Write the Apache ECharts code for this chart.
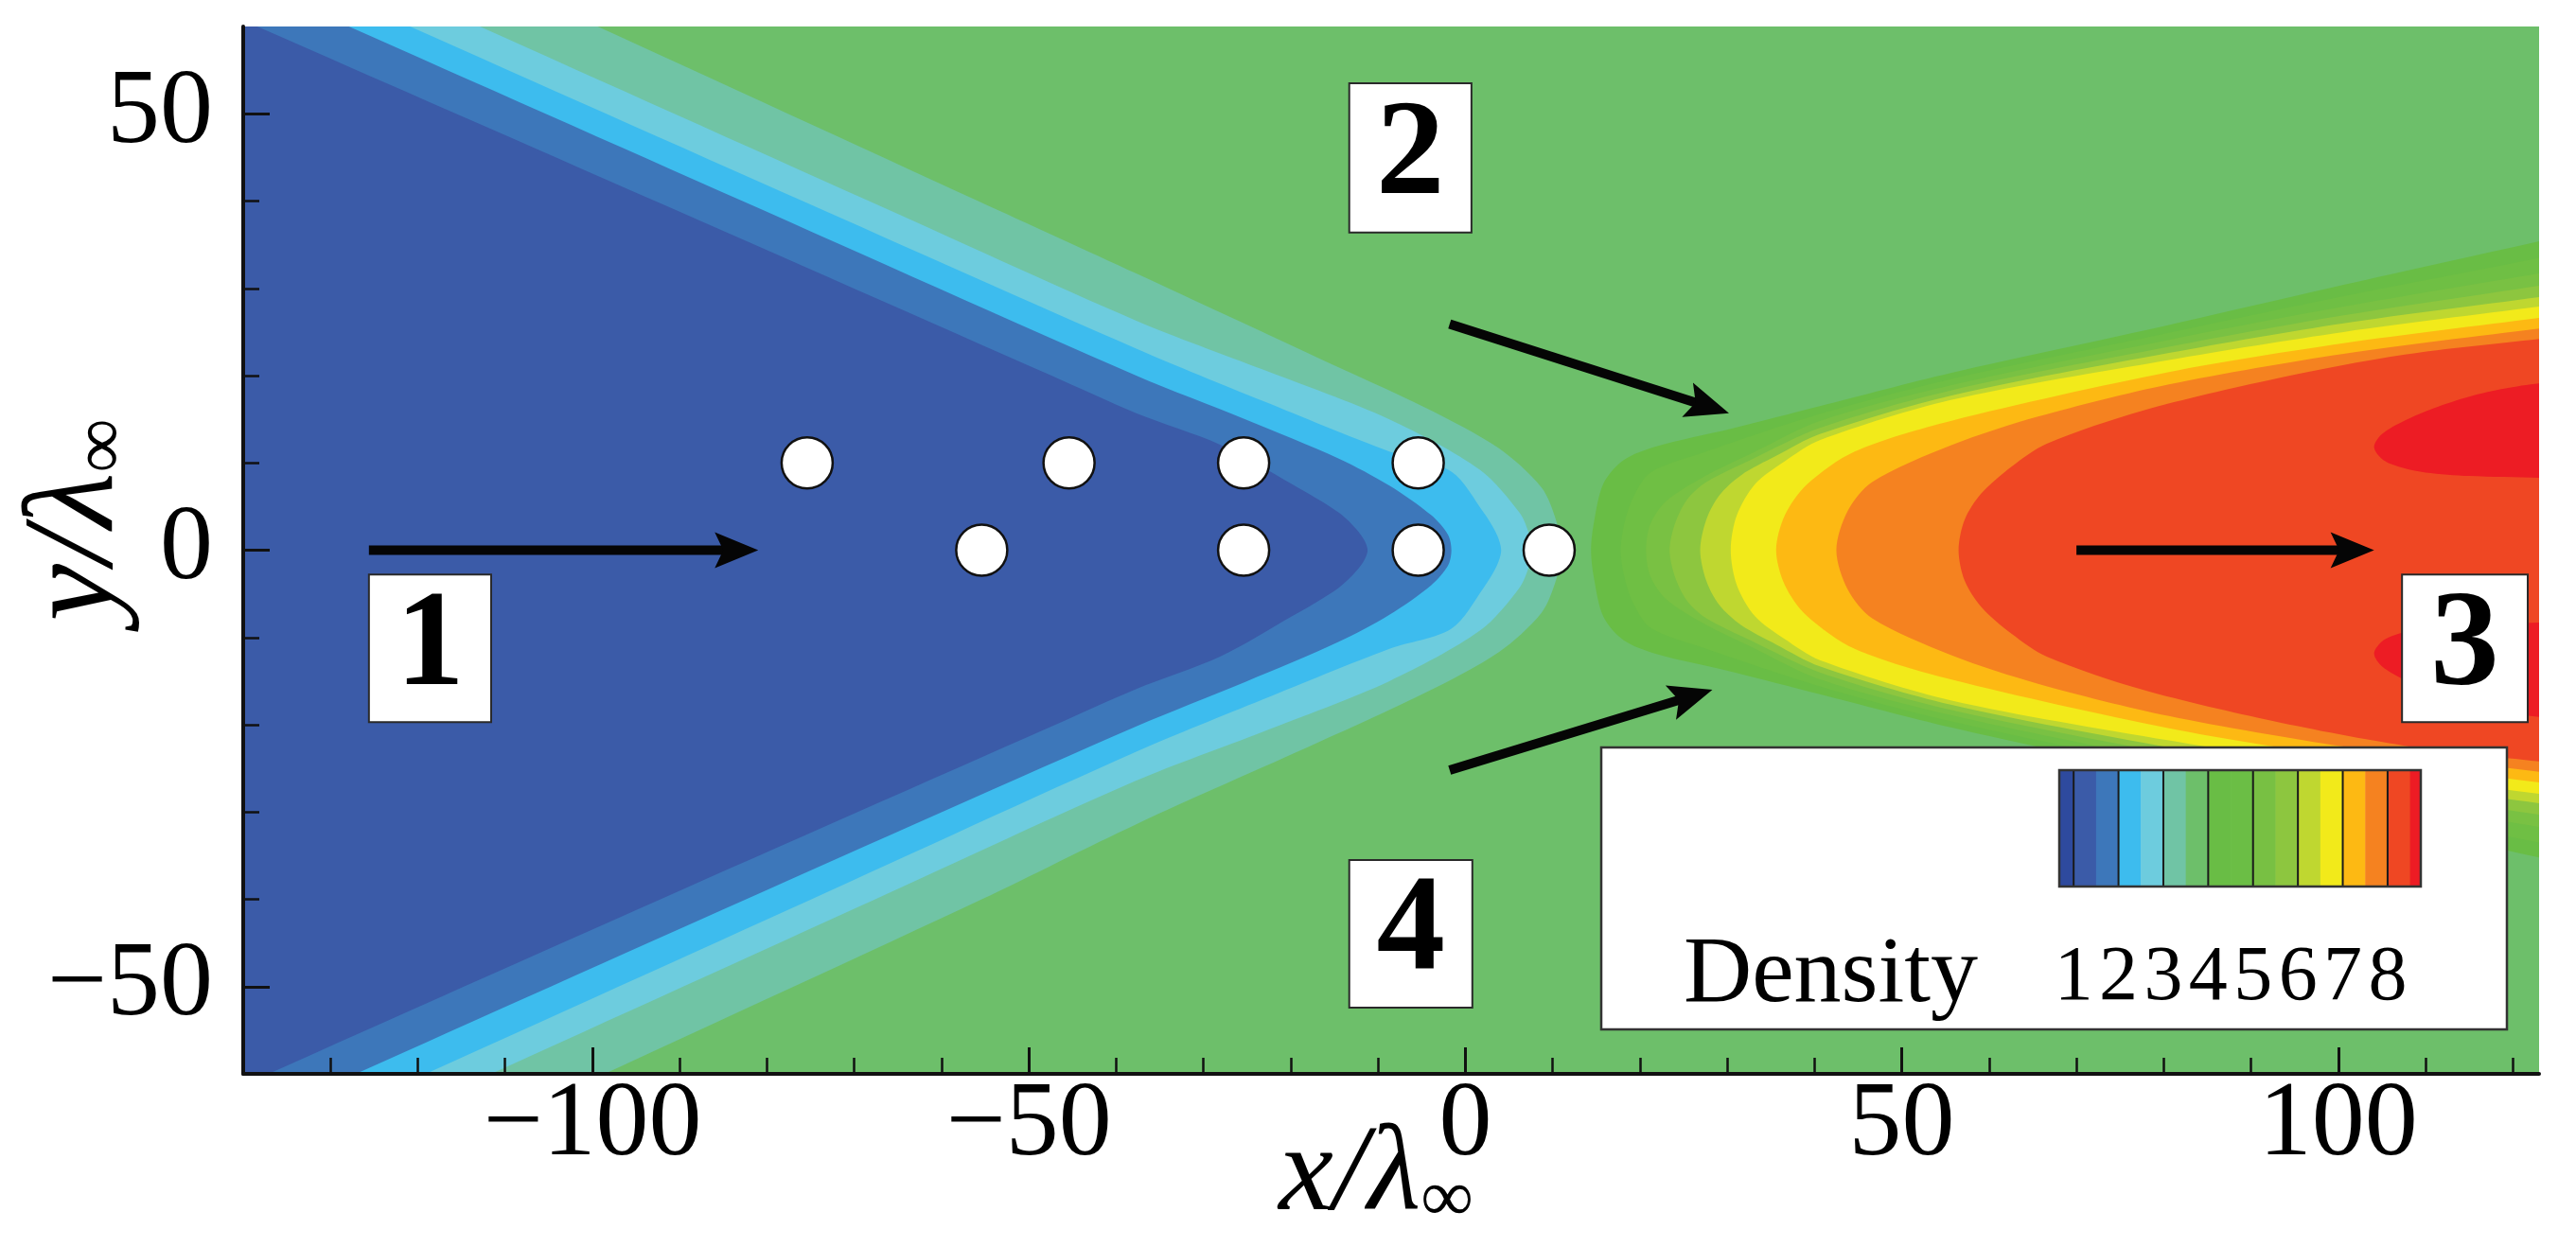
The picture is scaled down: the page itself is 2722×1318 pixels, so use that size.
<!DOCTYPE html>
<html><head><meta charset="utf-8">
<script src="https://cdn.jsdelivr.net/npm/echarts@6/dist/echarts.min.js"></script>
<style>html,body{margin:0;padding:0;background:#fff}#c{width:2722px;height:1318px}</style>
</head><body><div id="c"></div>
<script>
// ---------- axis ticks ----------
const xMajorTicks = [-100, -50, 0, 50, 100];
const xMinorTicks = [-130,-120,-110,-90,-80,-70,-60,-40,-30,-20,-10,10,20,30,40,60,70,80,90,110,120];
const yMajorTicks = [-50, 0, 50];
const yMinorTicks = [-40,-30,-20,-10,10,20,30,40];

// ---------- left (upstream) contour edges ----------
const tealEdgeUpper = [[-103.9,62],[-99.4,60],[-55.8,40],[-37.7,31.7],[-17.0,22.1],[-4.5,16.3],[3.8,11.7],[8.7,7.2],[10.4,3.4],[11.0,0]];
const tealEdgeLower = [[10.4,-3.4],[8.7,-7.2],[3.8,-11.7],[-4.5,-16.3],[-17.0,-22.1],[-37.7,-31.4],[-55.4,-40],[-98.6,-60],[-103.0,-62]];
const cyanEdgeUpper = [[-117.4,62],[-112.9,60],[-68.3,40],[-37.7,26.3],[-23.2,20.7],[-8.7,15.0],[1.7,9.2],[6.2,4.3],[7.3,1.8],[7.5,0]];
const cyanEdgeLower = [[7.3,-1.8],[6.2,-4.3],[1.7,-9.2],[-8.7,-15.0],[-23.2,-20.8],[-37.7,-26.4],[-67.6,-40],[-111.6,-60],[-116.1,-62]];
const lightBlueEdgeUpper = [[-125.4,62],[-120.9,60],[-75.9,40],[-37.7,23.1],[-23.2,17.1],[-8.7,11.3],[-1.6,9.0],[2.1,4.3],[3.6,1.8],[4.1,0]];
const lightBlueEdgeLower = [[3.6,-1.8],[2.1,-4.3],[-1.6,-9.0],[-8.7,-11.3],[-23.2,-17.1],[-37.7,-23.1],[-74.9,-40],[-119.1,-60],[-123.6,-62]];
const midBlueEdgeUpper = [[-132.4,62],[-127.9,60],[-82.8,40],[-37.7,20],[-25.2,15],[-14.5,10.5],[-8.7,7.4],[-3.9,4],[-2.0,1.8],[-1.6,0]];
const midBlueEdgeLower = [[-2.0,-1.8],[-3.9,-4],[-8.7,-7.4],[-14.5,-10.5],[-25.2,-15.1],[-37.7,-20.2],[-82.4,-40],[-127.1,-60],[-131.6,-62]];
const darkBlueEdgeUpper = [[-142.9,62],[-138.4,60],[-92.8,40],[-47.4,20],[-37.7,15.7],[-28.1,12.1],[-19.9,7.6],[-14.5,4.3],[-12.0,1.8],[-11.2,0]];
const darkBlueEdgeLower = [[-12.0,-1.8],[-14.5,-4.3],[-19.9,-7.6],[-28.1,-12.2],[-37.7,-15.9],[-47.4,-20.2],[-92.2,-40],[-137.1,-60],[-141.4,-62]];
const leftColors = ['#70C4A5', '#6DCCDE', '#3DBCEE', '#3D77BA', '#3B5BA8'];
const leftClosing = [[-170,-70],[-170,70]];

// ---------- right (wake) contour edges ----------
const q1Upper = [[14.4,0],[14.7,3],[15.8,7.6],[18.1,10.3],[21.9,11.9],[30.4,13.9],[40.6,16.5],[55.6,20.3],[80.6,25.8],[100.6,30.4],[123,35.4],[130,37]];
const q1Lower = [[14.7,-3],[15.8,-7.6],[18.1,-10.3],[21.9,-11.9],[30.4,-13.9],[40.6,-16.5],[55.6,-20.3],[80.6,-25.8],[100.6,-30.4],[123,-35.2],[130,-36.8]];
const q2Upper = [[17.8,0],[18.2,3],[19.2,6],[21.2,8.9],[27.3,11.2],[40.6,15.6],[55.6,19.6],[80.6,24.9],[100.6,29.1],[123,33.5],[130,35.2]];
const q2Lower = [[18.2,-3],[19.2,-6],[21.2,-8.9],[27.3,-11.2],[40.6,-15.6],[55.6,-19.6],[80.6,-24.9],[100.6,-29.1],[123,-33.5],[130,-35.2]];
const q3Upper = [[20.7,0],[21.2,3],[23.0,5.6],[27.3,8.4],[32.6,11.0],[40.6,14.8],[55.6,18.9],[80.6,24.1],[100.6,27.9],[123,31.7],[130,32.9]];
const q3Lower = [[21.2,-3],[23.0,-5.6],[27.3,-8.4],[32.6,-11.0],[40.6,-14.8],[55.6,-18.9],[80.6,-24.1],[100.6,-27.9],[123,-31.7],[130,-32.9]];
const q4Upper = [[23.4,0],[24.0,3],[25.4,5.8],[27.6,7.8],[32.6,10.3],[40.6,14.0],[55.6,18.3],[80.6,23.3],[100.6,26.9],[123,30.3],[130,31.4]];
const q4Lower = [[24.0,-3],[25.4,-5.8],[27.6,-7.8],[32.6,-10.3],[40.6,-14.0],[55.6,-18.3],[80.6,-23.3],[100.6,-26.9],[123,-30.3],[130,-31.4]];
const q5Upper = [[26.9,0],[27.6,3.5],[29.1,6.3],[31.6,8.6],[35.6,10.8],[40.6,13.3],[55.6,17.7],[80.6,22.6],[100.6,26.0],[123,29.0],[130,30]];
const q5Lower = [[27.6,-3.5],[29.1,-6.3],[31.6,-8.6],[35.6,-10.8],[40.6,-13.3],[55.6,-17.7],[80.6,-22.6],[100.6,-26.0],[123,-29.0],[130,-30]];
const q6Upper = [[30.4,0],[31.1,4],[33.2,7.6],[36.6,10.2],[40.6,12.6],[55.6,17.2],[80.6,21.8],[100.6,25.0],[123,27.9],[130,28.8]];
const q6Lower = [[31.1,-4],[33.2,-7.6],[36.6,-10.2],[40.6,-12.6],[55.6,-17.2],[80.6,-21.8],[100.6,-25.0],[123,-27.9],[130,-28.8]];
const q7Upper = [[35.6,0],[36.6,4],[39.1,7.5],[44.6,11.3],[55.6,14.8],[80.6,20.4],[100.6,23.7],[123,26.6],[130,27.5]];
const q7Lower = [[36.6,-4],[39.1,-7.5],[44.6,-11.3],[55.6,-14.8],[80.6,-20.4],[100.6,-23.7],[123,-26.6],[130,-27.5]];
const q8Upper = [[42.5,0],[43.8,4.5],[46.6,7.8],[55.6,12],[65.6,15.3],[80.6,19.0],[100.6,22.5],[123,25.4],[130,26.2]];
const q8Lower = [[43.8,-4.5],[46.6,-7.8],[55.6,-12],[65.6,-15.3],[80.6,-19.0],[100.6,-22.5],[123,-25.4],[130,-26.2]];
const q9Upper = [[56.5,0],[57.2,3.5],[59.1,6.5],[62.6,9.6],[66.6,12.2],[77.6,16.0],[92.6,19.6],[107.6,22.4],[123,24.2],[130,24.9]];
const q9Lower = [[57.2,-3.5],[59.1,-6.5],[62.6,-9.6],[66.6,-12.2],[77.6,-16.0],[92.6,-19.6],[107.6,-22.4],[123,-24.2],[130,-24.9]];
const plumeColors = ['#69BD45', '#6FBF44', '#79C143', '#8DC63F', '#BFD730', '#F2EA1A', '#FDB913', '#F58220', '#EF4723'];
const redBlobUpper = [[104.1,11.8],[105,13.3],[107.5,14.8],[111,16.3],[115,17.6],[119,18.5],[123,19.1],[130,19.5],[130,8.2],[123,8.3],[115,8.5],[110,8.9],[107.5,9.4],[105.2,10.3]];
const redBlobLower = [[104.1,-11.8],[105,-13.3],[107.5,-14.8],[111,-16.3],[115,-17.6],[119,-18.5],[123,-19.1],[130,-19.5],[130,-8.2],[123,-8.3],[115,-8.5],[110,-8.9],[107.5,-9.4],[105.2,-10.3]];
const redBlobColor = '#ED1C24';
const backgroundColor = '#6DBF6A';

// ---------- markers ----------
const cylinders = [[-75.4,10],[-55.4,0],[-45.4,10],[-25.4,10],[-25.4,0],[-5.4,10],[-5.4,0],[9.6,0]];
const arrowTails = [[-125.6,0],[-1.8,25.9],[-1.8,-25.2],[70.0,0]];
const arrowHeads = [[-81.0,0],[30.2,15.7],[28.3,-16.0],[104.1,0]];
const boxLabels = ['1', '2', '3', '4'];
const boxCorners = [[-125.6,-2.8,-111.6,-19.7],[-13.3,53.5,0.7,36.4],[107.3,-2.8,121.7,-19.7],[-13.3,-35.5,0.8,-52.4]];

// ---------- colour bar ----------
const densityTicks = [1,2,3,4,5,6,7,8];
const densityEdges = [0.68,1,1.5,2,2.5,3,3.5,4,4.5,5,5.5,6,6.5,7,7.5,8,8.5,8.74];
const densityColors = ['#2E4A9E','#3B5BA8','#3D77BA','#3DBCEE','#6DCCDE','#70C4A5','#6DBF6A','#69BD45','#6BBE45','#78C043','#8DC63F','#BFD730','#F2EA1A','#FDB913','#F58220','#EF4723','#ED1C24'];

const FONT = '"Liberation Serif", "Times New Roman", serif';
const minus = v => (v < 0 ? '\u2212' + Math.abs(v) : String(v));

// build polygons for the library
const polygons = [];
const leftEdges = [[tealEdgeUpper, tealEdgeLower],[cyanEdgeUpper, cyanEdgeLower],[lightBlueEdgeUpper, lightBlueEdgeLower],[midBlueEdgeUpper, midBlueEdgeLower],[darkBlueEdgeUpper, darkBlueEdgeLower]];
leftEdges.forEach((e, i) => polygons.push({pts: e[0].concat(e[1], leftClosing), color: leftColors[i]}));
const plumeEdges = [[q1Upper,q1Lower],[q2Upper,q2Lower],[q3Upper,q3Lower],[q4Upper,q4Lower],[q5Upper,q5Lower],[q6Upper,q6Lower],[q7Upper,q7Lower],[q8Upper,q8Lower],[q9Upper,q9Lower]];
plumeEdges.forEach((e, i) => polygons.push({pts: e[0].slice().reverse().concat(e[1]), color: plumeColors[i]}));
polygons.push({pts: redBlobUpper, color: redBlobColor});
polygons.push({pts: redBlobLower, color: redBlobColor});

const bands = densityColors.map((c, i) => [densityEdges[i], densityEdges[i + 1]]);

const chart = echarts.init(document.getElementById('c'), null, {renderer: 'canvas'});
const axisLineStyle = {color: '#111', width: 4};
const option = {
  backgroundColor: '#ffffff',
  animation: false,
  grid: [
    {left: 257, right: 39, top: 28, bottom: 183, show: true, backgroundColor: backgroundColor, borderWidth: 0, containLabel: false, outerBoundsMode: 'none'},
    {left: 2176, right: 164, top: 814, height: 123, containLabel: false, outerBoundsMode: 'none'}
  ],
  xAxis: [
    {gridIndex: 0, type: 'value', min: -140, max: 123, position: 'bottom', z: 10,
     axisLine: {show: true, onZero: false, lineStyle: axisLineStyle},
     axisTick: {show: true, inside: true, length: 28, customValues: xMajorTicks, lineStyle: {color: '#111', width: 3}},
     axisLabel: {customValues: xMajorTicks, formatter: minus, fontFamily: FONT, fontSize: 112, lineHeight: 112, color: '#000', margin: 0},
     splitLine: {show: false},
     name: '{i|x/\u03bb}{s|\u221e}', nameLocation: 'middle', nameGap: 44, nameMoveOverlap: false,
     nameTextStyle: {color: '#000', padding: [0, 32, 0, 0],
       rich: {i: {fontFamily: FONT, fontStyle: 'italic', fontSize: 130, lineHeight: 130, color: '#000'},
              s: {fontFamily: FONT, fontSize: 78, lineHeight: 100, verticalAlign: 'bottom', color: '#000'}}}},
    {gridIndex: 0, type: 'value', min: -140, max: 123, position: 'bottom', z: 10,
     axisLine: {show: false, onZero: false},
     axisTick: {show: true, inside: true, length: 17, customValues: xMinorTicks, lineStyle: {color: '#111', width: 2.5}},
     axisLabel: {show: false, customValues: xMinorTicks}, splitLine: {show: false}},
    {gridIndex: 1, type: 'value', min: 0.68, max: 8.74, position: 'bottom', z: 70,
     axisLine: {show: false, onZero: false}, axisTick: {show: false},
     axisLabel: {customValues: densityTicks, fontFamily: FONT, fontSize: 82, lineHeight: 82, color: '#000', margin: 56, hideOverlap: false},
     splitLine: {show: false}}
  ],
  yAxis: [
    {gridIndex: 0, type: 'value', min: -60, max: 60, position: 'left', z: 10,
     axisLine: {show: true, onZero: false, lineStyle: axisLineStyle},
     axisTick: {show: true, inside: true, length: 28, customValues: yMajorTicks, lineStyle: {color: '#111', width: 3}},
     axisLabel: {customValues: yMajorTicks, formatter: minus, fontFamily: FONT, fontSize: 112, lineHeight: 112, color: '#000', margin: 32},
     splitLine: {show: false},
     name: '{i|y/\u03bb}{s|\u221e}', nameLocation: 'middle', nameGap: 107, nameRotate: 90, nameMoveOverlap: false,
     nameTextStyle: {color: '#000', padding: [0, 0, 0, 64],
       rich: {i: {fontFamily: FONT, fontStyle: 'italic', fontSize: 136, lineHeight: 136, color: '#000'},
              s: {fontFamily: FONT, fontSize: 80, lineHeight: 104, verticalAlign: 'bottom', color: '#000'}}}},
    {gridIndex: 0, type: 'value', min: -60, max: 60, position: 'left', z: 10,
     axisLine: {show: false, onZero: false},
     axisTick: {show: true, inside: true, length: 17, customValues: yMinorTicks, lineStyle: {color: '#111', width: 2.5}},
     axisLabel: {show: false, customValues: yMinorTicks}, splitLine: {show: false}},
    {gridIndex: 1, type: 'value', min: 0, max: 1, show: false}
  ],
  graphic: [
    {type: 'rect', z: 50, shape: {x: 1692, y: 790, width: 957, height: 298}, style: {fill: '#fff', stroke: '#333', lineWidth: 2.5}},
    {type: 'text', z: 60, style: {text: 'Density', x: 1779, y: 1032, font: '100px "Liberation Serif"', fill: '#000', verticalAlign: 'middle'}}
  ],
  series: [
    {type: 'custom', name: 'contours', xAxisIndex: 0, yAxisIndex: 0, z: 1, clip: true, silent: true,
     data: polygons.map((p, i) => [i, 0]),
     renderItem: (params, api) => {
       const poly = polygons[params.dataIndex];
       return {type: 'polygon', shape: {points: poly.pts.map(p => api.coord(p)), smooth: 0.3},
               style: {fill: poly.color}};
     }},
    {type: 'custom', name: 'arrows', xAxisIndex: 0, yAxisIndex: 0, z: 5, silent: true,
     data: arrowTails.map((t, i) => [t[0], t[1], arrowHeads[i][0], arrowHeads[i][1]]),
     renderItem: (params, api) => {
       const p0 = api.coord([api.value(0), api.value(1)]);
       const p1 = api.coord([api.value(2), api.value(3)]);
       const dx = p1[0] - p0[0], dy = p1[1] - p0[1], L = Math.hypot(dx, dy);
       const ux = dx / L, uy = dy / L, nx = -uy, ny = ux;
       const hl = 46, hw = 19, notch = 9;
       const bx = p1[0] - ux * hl, by = p1[1] - uy * hl;
       return {type: 'group', children: [
         {type: 'line', shape: {x1: p0[0], y1: p0[1], x2: bx + ux * (notch + 4), y2: by + uy * (notch + 4)}, style: {stroke: '#050505', lineWidth: 10}},
         {type: 'polygon', shape: {points: [p1, [bx + nx * hw, by + ny * hw], [bx + ux * notch, by + uy * notch], [bx - nx * hw, by - ny * hw]]}, style: {fill: '#050505'}}
       ]};
     }},
    {type: 'scatter', name: 'cylinders', xAxisIndex: 0, yAxisIndex: 0, z: 6, silent: true,
     data: cylinders, symbol: 'circle', symbolSize: 54,
     itemStyle: {color: '#ffffff', borderColor: '#111', borderWidth: 2.5, opacity: 1}},
    {type: 'custom', name: 'regions', xAxisIndex: 0, yAxisIndex: 0, z: 7, silent: true,
     data: boxCorners,
     renderItem: (params, api) => {
       const a = api.coord([api.value(0), api.value(1)]);
       const b = api.coord([api.value(2), api.value(3)]);
       const x = Math.min(a[0], b[0]), y = Math.min(a[1], b[1]);
       const w = Math.abs(b[0] - a[0]), h = Math.abs(b[1] - a[1]);
       return {type: 'group', children: [
         {type: 'rect', shape: {x: x, y: y, width: w, height: h}, style: {fill: '#fff', stroke: '#2a2a2a', lineWidth: 2}},
         {type: 'text', style: {text: boxLabels[params.dataIndex], x: x + w / 2, y: y + h / 2, align: 'center', verticalAlign: 'middle',
           font: 'bold 145px "Liberation Serif"', fill: '#000'}}
       ]};
     }},
    {type: 'custom', name: 'colorbar', xAxisIndex: 2, yAxisIndex: 2, z: 60, silent: true,
     data: bands,
     renderItem: (params, api) => {
       const a = api.coord([api.value(0), 1]);
       const b = api.coord([api.value(1), 0]);
       return {type: 'rect', shape: {x: a[0], y: a[1], width: b[0] - a[0] + 0.5, height: b[1] - a[1]},
               style: {fill: densityColors[params.dataIndex]}};
     }},
    {type: 'custom', name: 'colorbarLines', xAxisIndex: 2, yAxisIndex: 2, z: 61, silent: true,
     data: densityTicks.map(v => [v, 0]),
     renderItem: (params, api) => {
       const a = api.coord([api.value(0), 1]);
       const b = api.coord([api.value(0), 0]);
       return {type: 'line', shape: {x1: a[0], y1: a[1], x2: b[0], y2: b[1]}, style: {stroke: '#1a1a1a', lineWidth: 2}};
     }},
    {type: 'custom', name: 'colorbarFrame', xAxisIndex: 2, yAxisIndex: 2, z: 62, silent: true,
     data: [[densityEdges[0], densityEdges[densityEdges.length - 1]]],
     renderItem: (params, api) => {
       const a = api.coord([api.value(0), 1]);
       const b = api.coord([api.value(1), 0]);
       return {type: 'rect', shape: {x: a[0], y: a[1], width: b[0] - a[0], height: b[1] - a[1]},
               style: {fill: 'none', stroke: '#333', lineWidth: 2.5}};
     }}
  ]
};
chart.setOption(option);
</script></body></html>
